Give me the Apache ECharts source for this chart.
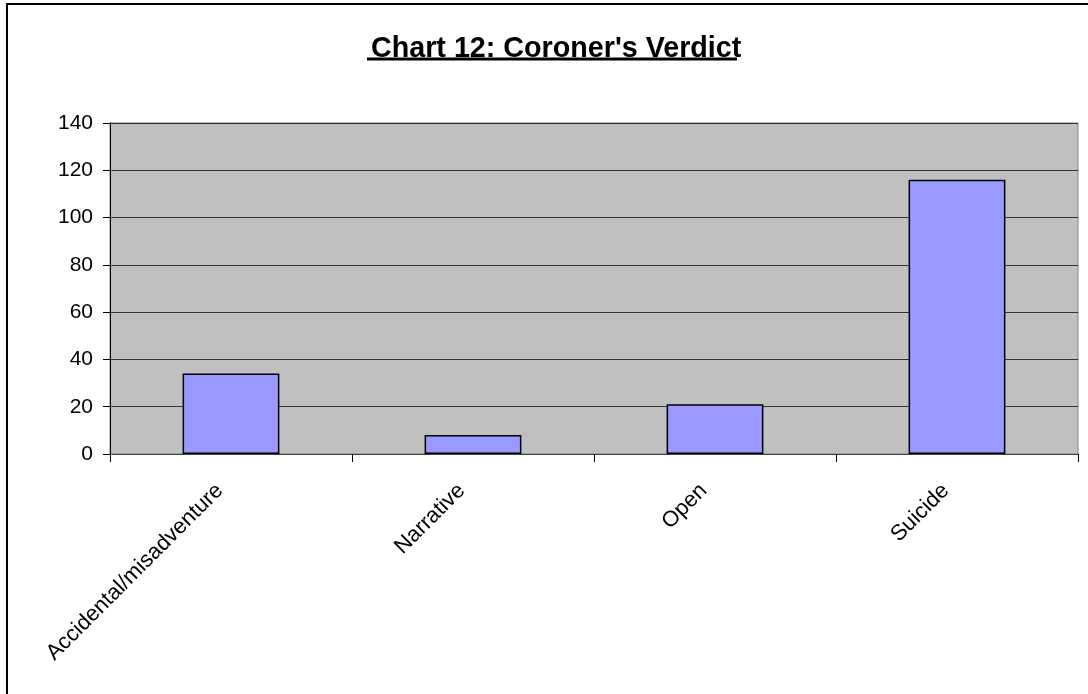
<!DOCTYPE html>
<html>
<head>
<meta charset="utf-8">
<script src="https://cdn.jsdelivr.net/npm/echarts@6/dist/echarts.min.js"></script>
<style>
  html, body { margin: 0; padding: 0; background: #fff; }
  #frame {
    position: absolute; left: 6px; top: 3px;
    width: 1100px; height: 710px;
    border-left: 2px solid #000; border-top: 2px solid #000;
  }
  #main { position: absolute; left: 0; top: 0; width: 1088px; height: 694px; }
</style>
</head>
<body>
<div id="frame"></div>
<div id="main"></div>
<script>
// chart data
var verdicts = ['Accidental/misadventure', 'Narrative', 'Open', 'Suicide'];
var counts = [34, 8, 21, 116];
var titleText = "Chart 12: Coroner's Verdict";

var chart = echarts.init(document.getElementById('main'));
var font = 'Arial, "Liberation Sans", sans-serif';

chart.setOption({
  animation: false,
  title: {
    text: titleText,
    left: 366,
    top: 30,
    textStyle: { fontFamily: font, fontSize: 28.7, fontWeight: 'bold', color: '#000' }
  },
  graphic: [{
    type: 'line',
    shape: { x1: 367, y1: 59, x2: 737, y2: 59 },
    style: { stroke: '#000', lineWidth: 3 }
  }],
  grid: {
    left: 110, right: 10, top: 123, bottom: 240,
    show: true,
    backgroundColor: '#c0c0c0',
    borderColor: '#808080',
    borderWidth: 1
  },
  xAxis: {
    type: 'category',
    data: verdicts,
    axisLine: { lineStyle: { color: '#404040', width: 1 } },
    axisTick: { show: true, length: 8, lineStyle: { color: '#000' } },
    axisLabel: {
      rotate: 45, margin: 22, color: '#000', padding: [0, 16, 0, 0],
      fontFamily: font, fontSize: 22, interval: 0
    }
  },
  yAxis: {
    type: 'value',
    min: 0, max: 140, interval: 20,
    axisLine: { show: true, lineStyle: { color: '#000', width: 1 } },
    axisTick: { show: true, length: 7, lineStyle: { color: '#000' } },
    axisLabel: { color: '#000', fontFamily: font, fontSize: 21, margin: 17 },
    splitLine: { lineStyle: { color: '#333', width: 1 } }
  },
  series: [{
    type: 'bar',
    data: counts,
    barWidth: '40%',
    itemStyle: { color: '#9999ff', borderColor: '#000', borderWidth: 1.5 }
  }]
});
</script>
</body>
</html>
